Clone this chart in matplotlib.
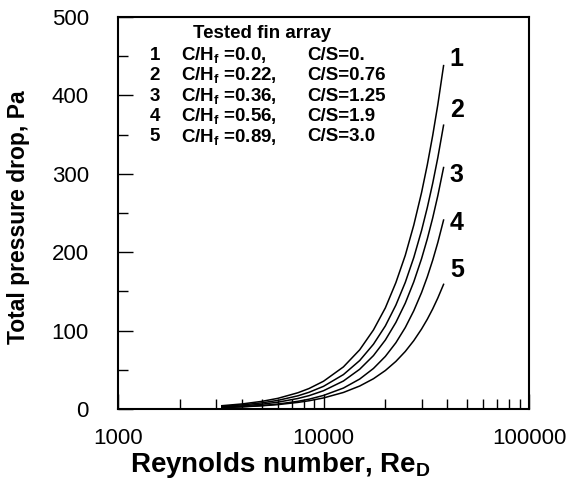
import numpy as np
import matplotlib
matplotlib.use('Agg')
import matplotlib.pyplot as plt
from matplotlib.ticker import FixedLocator, NullFormatter, FuncFormatter

plt.rcParams['font.family'] = 'Liberation Sans'
plt.rcParams['mathtext.fontset'] = 'custom'
plt.rcParams['mathtext.rm'] = 'Liberation Sans'
plt.rcParams['mathtext.bf'] = 'Liberation Sans:bold'
plt.rcParams['mathtext.it'] = 'Liberation Sans:italic'

# dati
reynolds = [3200, 4000, 5000, 6000, 7500, 8500, 10000, 12500, 15000, 17500,
            20000, 22500, 25000, 27500, 30000, 32000, 34000, 36000, 38400]
dp_1 = [4.2, 6.4, 9.7, 13.6, 20.7, 26.1, 35.4, 53.7, 75.5, 100.8,
        129, 161.2, 196, 234.6, 276, 311.5, 349, 388.2, 438]
dp_2 = [3.4, 5.2, 7.8, 11.0, 16.8, 21.3, 28.9, 43.9, 61.8, 82.6,
        106, 132.5, 161.5, 193.2, 227.6, 257.0, 288, 320.6, 362]
dp_3 = [2.6, 4.0, 6.1, 8.7, 13.4, 17.0, 23.3, 35.7, 50.7, 68.1,
        88, 110.4, 135, 162.2, 191.7, 217.0, 243.8, 272.1, 308]
dp_4 = [1.8, 2.9, 4.4, 6.3, 9.8, 12.5, 17.3, 26.7, 38.2, 51.7,
        67.1, 84.5, 103.9, 125.3, 148.5, 168.6, 189.9, 212.4, 241]
dp_5 = [1.8, 2.7, 4.1, 5.6, 8.4, 10.5, 14.1, 21.1, 29.3, 38.6,
        49.1, 60.7, 73.4, 87.2, 102, 114.5, 127.7, 141.6, 159]

curve_labels = ['1', '2', '3', '4', '5']
label_re = 44500
label_dp = [446, 381, 298, 237, 177]

ch_values = ['0.0,', '0.22,', '0.36,', '0.56,', '0.89,']
cs_values = ['0.', '0.76', '1.25', '1.9', '3.0']

fig = plt.figure(figsize=(5.8, 4.88), dpi=100)
ax = fig.add_axes([118 / 580, 1 - 409 / 488, 411 / 580, 392 / 488])

for dp in [dp_1, dp_2, dp_3, dp_4, dp_5]:
    ax.plot(reynolds, dp, color='black', linewidth=1.1)

for lab, y in zip(curve_labels, label_dp):
    ax.text(label_re, y, lab, fontsize=18, fontweight='bold', ha='center', va='center')

ax.set_xscale('log')
ax.set_xlim(1000, 100000)
ax.set_ylim(0, 500)

ax.xaxis.set_major_locator(FixedLocator([1000, 10000, 100000]))
ax.xaxis.set_major_formatter(FuncFormatter(lambda v, p: '%d' % v))
minori = [m * 10 ** e for e in (3, 4) for m in range(2, 10)]
ax.xaxis.set_minor_locator(FixedLocator(minori))
ax.xaxis.set_minor_formatter(NullFormatter())
ax.yaxis.set_major_locator(FixedLocator([0, 100, 200, 300, 400, 500]))
ax.yaxis.set_minor_locator(FixedLocator([50, 150, 250, 350, 450]))

ax.tick_params(which='both', direction='in', top=False, right=False, width=1.0)
ax.tick_params(which='major', length=10.5, labelsize=16)
ax.tick_params(axis='x', which='major', pad=14)
ax.tick_params(axis='y', which='major', pad=21)
ax.tick_params(which='minor', length=7)

for s in ax.spines.values():
    s.set_linewidth(1.5)

ax.set_ylabel('Total pressure drop, Pa', fontsize=16.5, fontweight='bold')
ax.yaxis.set_label_coords(-0.215, 0.49)
ax.set_xlabel(r'Reynolds number, Re$_\mathbf{D}$', fontsize=20, fontweight='bold', va='top')
ax.xaxis.set_label_coords(0.394, -0.105)

# legenda testuale
fs = 13.5
ax.text(0.351, 0.959, 'Tested fin array', transform=ax.transAxes, fontsize=fs,
        fontweight='bold', ha='center', va='center')
righe_y = [0.903, 0.852, 0.798, 0.747, 0.694]
for i in range(5):
    y = righe_y[i]
    ax.text(0.090, y, curve_labels[i], transform=ax.transAxes, fontsize=fs,
            fontweight='bold', ha='center', va='center')
    ax.text(0.1525, y, r'C/H$_\mathbf{f}$ =' + ch_values[i], transform=ax.transAxes,
            fontsize=fs, fontweight='bold', ha='left', va='center')
    ax.text(0.46, y, 'C/S=' + cs_values[i], transform=ax.transAxes, fontsize=fs,
            fontweight='bold', ha='left', va='center')

fig.savefig('out.png', dpi=100)
